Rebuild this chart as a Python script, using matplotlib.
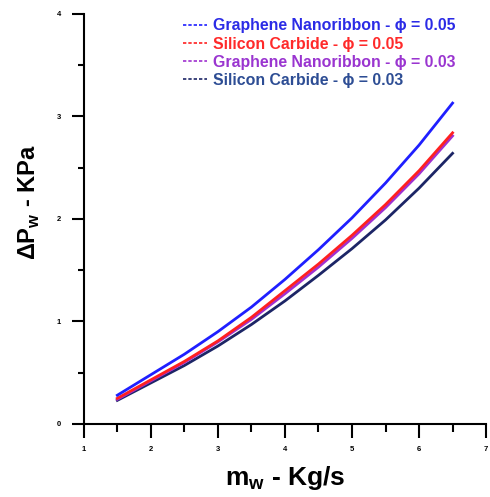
import matplotlib
matplotlib.use("Agg")
import matplotlib.pyplot as plt
from matplotlib.lines import Line2D
from matplotlib.ticker import MultipleLocator

plt.rcParams['font.family'] = ['Liberation Sans', 'DejaVu Sans']

# mass flow rate (kg/s)
m_w = [1.5, 2.0, 2.5, 3.0, 3.5, 4.0, 4.5, 5.0, 5.5, 6.0, 6.5]

# pressure drop (kPa)
gn_005 = [0.28, 0.48, 0.68, 0.90, 1.14, 1.41, 1.70, 2.01, 2.35, 2.72, 3.13]
sic_005 = [0.25, 0.43, 0.61, 0.81, 1.04, 1.30, 1.56, 1.84, 2.14, 2.47, 2.84]
gn_003 = [0.24, 0.42, 0.60, 0.80, 1.02, 1.27, 1.53, 1.81, 2.11, 2.44, 2.81]
sic_003 = [0.23, 0.40, 0.57, 0.76, 0.97, 1.20, 1.45, 1.71, 1.99, 2.30, 2.64]

labels = [
    "Graphene Nanoribbon - \u03d5 = 0.05",
    "Silicon Carbide - \u03d5 = 0.05",
    "Graphene Nanoribbon - \u03d5 = 0.03",
    "Silicon Carbide - \u03d5 = 0.03",
]
line_colors = ["#1f1fff", "#ff2020", "#a030d0", "#1c2566"]
text_colors = ["#2b2be6", "#ff2a2a", "#9a35d0", "#2d4d94"]

fig = plt.figure(figsize=(4.9, 4.97), dpi=100)
ax = fig.add_axes([0.171, 0.147, 0.821, 0.825])

series = [gn_005, sic_005, gn_003, sic_003]
# draw purple under red, as in the reference
order = [3, 2, 1, 0]
for i in order:
    ax.plot(m_w, series[i], color=line_colors[i], lw=2.0)

ax.set_xlim(1, 7)
ax.set_ylim(0, 4)
ax.xaxis.set_major_locator(MultipleLocator(1))
ax.xaxis.set_minor_locator(MultipleLocator(0.5))
ax.yaxis.set_major_locator(MultipleLocator(1))
ax.yaxis.set_minor_locator(MultipleLocator(0.5))

ax.spines['top'].set_visible(False)
ax.spines['right'].set_visible(False)
for s in ['left', 'bottom']:
    ax.spines[s].set_linewidth(1.5)
ax.tick_params(which='both', width=1.5, direction='out', labelsize=5.5)
ax.tick_params(axis='x', which='major', length=10, pad=6)
ax.tick_params(axis='x', which='minor', length=6)
ax.tick_params(axis='y', which='major', length=8.5, pad=8)
ax.tick_params(axis='y', which='minor', length=4.5)
for lab in ax.get_xticklabels() + ax.get_yticklabels():
    lab.set_fontweight('bold')

ax.set_xlabel("m$_{\\mathregular{w}}$ - Kg/s", fontsize=19, fontweight='bold', labelpad=8)
ax.set_ylabel("\u0394P$_{\\mathregular{w}}$ - KPa", fontsize=17, fontweight='bold')
ax.yaxis.set_label_coords(-0.103, 0.54)

handles = [Line2D([0], [0], color=c, lw=1.2, ls=(0, (2, 1.2))) for c in line_colors]
leg = ax.legend(handles, labels, loc='upper right', bbox_to_anchor=(0.923, 0.989),
                frameon=False, borderpad=0, borderaxespad=0, handlelength=1.5,
                handletextpad=0.35, labelspacing=0.2,
                prop={'weight': 'bold', 'size': 11.4})
for t, c in zip(leg.get_texts(), text_colors):
    t.set_color(c)

fig.savefig("out.png", dpi=100)
